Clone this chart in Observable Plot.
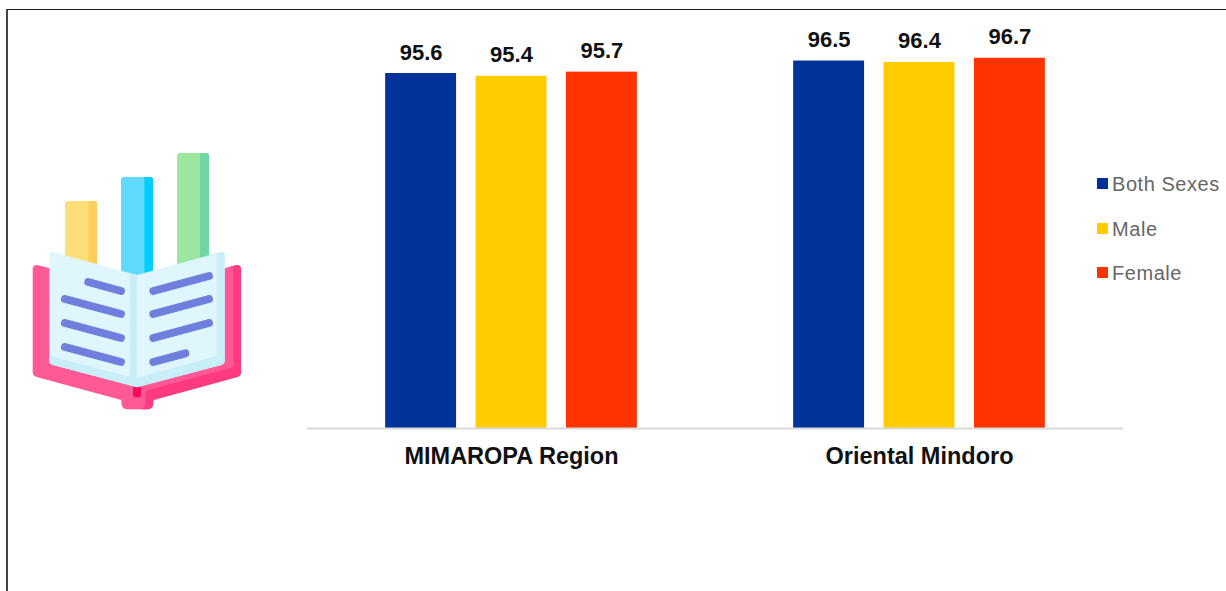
<!DOCTYPE html>
<html>
<head>
<meta charset="utf-8">
<script src="https://cdn.jsdelivr.net/npm/d3@7"></script>
<script src="https://cdn.jsdelivr.net/npm/@observablehq/plot@0.6"></script>
<style>
  html, body { margin: 0; padding: 0; background: #fff; overflow: hidden; }
  #page { position: relative; width: 1226px; height: 591px; font-family: "Liberation Sans", Arial, sans-serif; }
  #page > svg.chart { position: absolute; left: 0; top: 0; }
  #frame { position: absolute; left: 6px; top: 9px; right: -4px; bottom: -4px; border-top: 1.5px solid #222; border-left: 2px solid #444; }
  #icon { position: absolute; left: 20px; top: 140px; }
  #legend { position: absolute; left: 1097px; top: 161px; color: #666; font-size: 20px; }
  #legend .row { position: absolute; left: 0; height: 24px; line-height: 24px; white-space: nowrap; }
  #legend .swatch { position: absolute; left: 0; top: 6px; width: 11px; height: 11px; }
  #legend .name { position: absolute; left: 15px; top: 0; letter-spacing: 0.55px; }
</style>
</head>
<body>
<div id="page"></div>
<script>
// Basic literacy rate by sex
const regions = ["MIMAROPA Region", "Oriental Mindoro"];
const sexes = ["Both Sexes", "Male", "Female"];
const bothSexes = [95.6, 96.5];
const male = [95.4, 96.4];
const female = [95.7, 96.7];
const sexColors = ["#003399", "#FFCC00", "#FF3300"];
const axisFloor = 70;
const axisCeiling = 100;

const series = [bothSexes, male, female];
const rows = sexes.flatMap((sex, s) =>
  regions.map((region, r) => ({region, sex, value: series[s][r]}))
);

const chart = Plot.plot({
  width: 1226,
  height: 591,
  marginLeft: 306,
  marginRight: 103,
  marginTop: 12,
  marginBottom: 163,
  style: {background: "transparent", fontFamily: '"Liberation Sans", Arial, sans-serif'},
  fx: {domain: regions, padding: 0, label: null},
  x: {domain: sexes, paddingInner: 0.2155, paddingOuter: 0.8646, round: false, axis: null},
  y: {domain: [axisFloor, axisCeiling], axis: null},
  color: {domain: sexes, range: sexColors},
  marks: [
    Plot.barY(rows, {fx: "region", x: "sex", y1: () => axisFloor, y2: "value", fill: "sex"}),
    Plot.ruleY([axisFloor], {stroke: "#D9D9D9", strokeWidth: 2}),
    Plot.text(rows, {
      fx: "region", x: "sex", y: "value", text: d => d.value.toFixed(1),
      dy: -21, fontSize: 22, fontWeight: 700, fill: "#111"
    }),
    Plot.axisFx({
      anchor: "bottom", label: null, tickSize: 0, tickPadding: 19,
      fontSize: 23.5, fontWeight: 700, fill: "#111"
    })
  ]
});
chart.classList.add("chart");

const page = document.getElementById("page");
page.appendChild(chart);

const frame = document.createElement("div");
frame.id = "frame";
page.appendChild(frame);

// Open book with three bars rising out of it
const icon = document.createElement("div");
icon.id = "icon";
icon.innerHTML = `
<svg width="240" height="280" viewBox="0 0 720 840" xmlns="http://www.w3.org/2000/svg">
  <rect x="135" y="183" width="96" height="220" rx="8" fill="#FFDF7A"/>
  <path d="M205 183h18a8 8 0 0 1 8 8v212h-26z" fill="#FFCD5A"/>
  <rect x="303" y="111" width="96" height="320" rx="8" fill="#60DBFD"/>
  <path d="M373 111h18a8 8 0 0 1 8 8v312h-26z" fill="#00CFFF"/>
  <rect x="471" y="39" width="96" height="350" rx="8" fill="#9DE6A0"/>
  <path d="M540 39h19a8 8 0 0 1 8 8v342h-27z" fill="#6FD6A6"/>
  <path d="M52 375 L100 388 L351 500 L602 388 L650 375 Q663 375 663 388 L663 696 Q663 708 652 711 L400 780 L400 788 Q400 808 380 808 L325 808 Q304 808 304 788 L304 780 L50 711 Q38 708 38 696 L38 388 Q38 375 52 375Z" fill="#FF5A96"/>
  <path d="M616 384 L650 375 Q663 375 663 388 L663 696 Q663 708 652 711 L400 780 L400 788 Q400 808 380 808 L356 808 Q376 808 376 788 L376 762 Q376 752 386 749 L630 684 Q640 681 640 671 L640 380Z" fill="#FF3A82"/>
  <rect x="339" y="735" width="24" height="37" rx="8" fill="#FF0A5A"/>
  <path d="M98 336 L351 405 L351 742 L96 674 Q88 672 88 664 L88 346 Q88 334 98 336Z" fill="#DFF6FD"/>
  <path d="M604 336 L351 405 L351 742 L606 674 Q614 672 614 664 L614 346 Q614 334 604 336Z" fill="#DFF6FD"/>
  <path d="M330 400 L351 405 L372 400 L604 336 Q614 334 614 346 L614 664 Q614 672 606 674 L351 742 L96 674 Q88 672 88 664 L88 647 L330 711Z M351 405 L351 713 L590 648 L590 343Z" fill="#C8EEF7" fill-rule="evenodd"/>
  <g stroke="#707FDD" stroke-width="24" stroke-linecap="round" fill="none">
    <line x1="205" y1="426" x2="303" y2="453"/>
    <line x1="135" y1="477" x2="303" y2="522"/>
    <line x1="135" y1="549" x2="303" y2="594"/>
    <line x1="135" y1="621" x2="303" y2="666"/>
    <line x1="400" y1="453" x2="567" y2="408"/>
    <line x1="400" y1="522" x2="567" y2="477"/>
    <line x1="400" y1="594" x2="567" y2="549"/>
    <line x1="400" y1="666" x2="496" y2="640"/>
  </g>
</svg>`;
page.appendChild(icon);

// Legend to the right of the bars
const legend = document.createElement("div");
legend.id = "legend";
sexes.forEach((sex, i) => {
  const row = document.createElement("div");
  row.className = "row";
  row.style.top = `${i * 44.5 + 11}px`;
  const swatch = document.createElement("span");
  swatch.className = "swatch";
  swatch.style.background = sexColors[i];
  const name = document.createElement("span");
  name.className = "name";
  name.textContent = sex;
  row.append(swatch, name);
  legend.appendChild(row);
});
page.appendChild(legend);
</script>
</body>
</html>
